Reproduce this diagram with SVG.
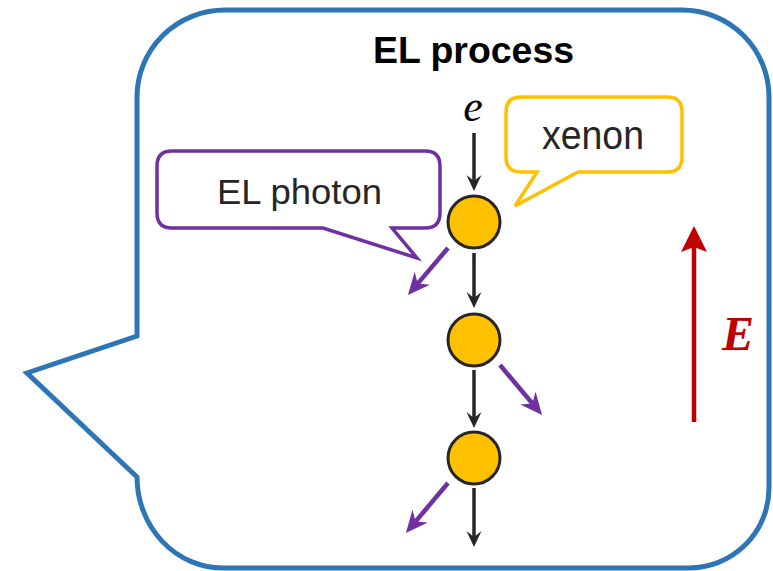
<svg xmlns="http://www.w3.org/2000/svg" width="773" height="571" viewBox="0 0 773 571">
  <style>
    .lbl { font-family: "Liberation Sans", Arial, sans-serif; fill: #262626; }
    .atom { fill: #FFC000; stroke: #262626; stroke-width: 3; }
    .blk { stroke: #262626; stroke-width: 3.5; fill: none; marker-end: url(#hBlack); }
    .pur { stroke: #7030A0; stroke-width: 4.5; fill: none; marker-end: url(#hPurple); }
  </style>
  <defs>
    <marker id="hBlack" markerUnits="userSpaceOnUse" viewBox="-7 -9 19 18" refX="0" refY="0" markerWidth="19" markerHeight="18" orient="auto">
      <path d="M10,0 L-6,-7.5 L0,0 L-6,7.5 Z" fill="#262626"/>
    </marker>
    <marker id="hPurple" markerUnits="userSpaceOnUse" viewBox="-8 -11 24 22" refX="0" refY="0" markerWidth="24" markerHeight="22" orient="auto">
      <path d="M15,0 L-7,-10 L0,0 L-7,10 Z" fill="#7030A0"/>
    </marker>
    <marker id="hRed" markerUnits="userSpaceOnUse" viewBox="-6 -14 28 28" refX="0" refY="0" markerWidth="28" markerHeight="28" orient="auto">
      <path d="M21,0 L-5,-13 L0,0 L-5,13 Z" fill="#C00000"/>
    </marker>
  </defs>

  <g id="main-callout">
    <path d="M225,10 H682 A87,87 0 0 1 769,97 V488 A80,80 0 0 1 689,568 H223 A86,91 0 0 1 137,477 L27,373 L137,336 V97 A88,87 0 0 1 225,10 Z" fill="#FFFFFF" stroke="#2E75B6" stroke-width="5" stroke-linejoin="miter"/>
    <text x="373" y="63" font-family="Liberation Sans, Arial, sans-serif" font-weight="bold" font-size="36" fill="#000000" textLength="201" lengthAdjust="spacingAndGlyphs">EL process</text>
  </g>

  <g id="photon-callout">
    <path d="M172,151 H425 Q440,151 440,166 V213 Q440,228 425,228 H392 L417,258 L323,228 H172 Q157,228 157,213 V166 Q157,151 172,151 Z" fill="#FFFFFF" stroke="#7030A0" stroke-width="3.5" stroke-linejoin="miter"/>
    <text class="lbl" x="217" y="204" font-size="35" textLength="165" lengthAdjust="spacingAndGlyphs">EL photon</text>
  </g>

  <g id="xenon-callout">
    <path d="M521,97 H667 Q682,97 682,112 V157 Q682,172 667,172 H578 L515,206 L537,172 H521 Q506,172 506,157 V112 Q506,97 521,97 Z" fill="#FFFFFF" stroke="#FFC000" stroke-width="3.5" stroke-linejoin="miter"/>
    <text class="lbl" x="542" y="149" font-size="40" textLength="102" lengthAdjust="spacingAndGlyphs">xenon</text>
  </g>

  <g id="electron">
    <text x="473" y="121" text-anchor="middle" font-family="Liberation Serif, 'Times New Roman', serif" font-style="italic" font-size="44" fill="#000000">e</text>
  </g>

  <g id="atom1"><circle class="atom" cx="474" cy="222" r="26"/></g>
  <g id="atom2"><circle class="atom" cx="474" cy="340" r="26"/></g>
  <g id="atom3"><circle class="atom" cx="474" cy="458" r="26"/></g>

  <g id="field">
    <line x1="694" y1="422" x2="694" y2="247" stroke="#C00000" stroke-width="4.5" marker-end="url(#hRed)"/>
    <text x="722" y="350" font-family="Liberation Serif, 'Times New Roman', serif" font-weight="bold" font-style="italic" font-size="48" fill="#C00000">E</text>
  </g>

  <g id="connectors">
    <line class="blk" x1="474" y1="133" x2="474" y2="181"/>
    <line class="blk" x1="474" y1="253" x2="474" y2="298"/>
    <line class="blk" x1="474" y1="370" x2="474" y2="418"/>
    <line class="blk" x1="474" y1="488" x2="474" y2="537"/>
    <line class="pur" x1="448" y1="248" x2="417.7" y2="283.6"/>
    <line class="pur" x1="500" y1="365" x2="532.4" y2="403.5"/>
    <line class="pur" x1="448" y1="483" x2="415.6" y2="521.5"/>
  </g>
</svg>
